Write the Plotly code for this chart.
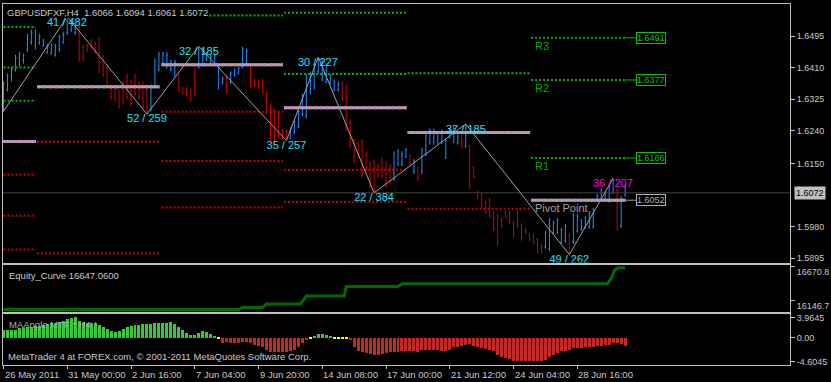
import plotly.graph_objects as go

# ---------------- data ----------------
title_text = "GBPUSDFXF,H4  1.6066 1.6094 1.6061 1.6072"

time_ticks = [0, 16, 32, 48, 64, 80, 96, 112, 128, 144]
time_labels = ["26 May 2011", "31 May 00:00", "2 Jun 16:00", "7 Jun 04:00", "9 Jun 20:00",
               "14 Jun 08:00", "17 Jun 00:00", "21 Jun 12:00", "24 Jun 04:00", "28 Jun 16:00"]
price_ticks = [1.6495, 1.6410, 1.6325, 1.6240, 1.6150, 1.5980, 1.5895]

bar_high = [
    1.6373, 1.6394, 1.6413, 1.6445, 1.6453, 1.6448, 1.6502, 1.6513, 1.6513, 1.6502,
    1.6488, 1.6475, 1.6475, 1.6475, 1.6499, 1.6507, 1.6548, 1.6540, 1.6526, 1.6526,
    1.6472, 1.6475, 1.6488, 1.6480, 1.6494, 1.6445, 1.6419, 1.6365, 1.6359, 1.6351,
    1.6373, 1.6394, 1.6378, 1.6394, 1.6373, 1.6373, 1.6359, 1.6365, 1.6435, 1.6453,
    1.6453, 1.6453, 1.6432, 1.6432, 1.6394, 1.6359, 1.6359, 1.6354, 1.6408, 1.6468,
    1.6462, 1.6453, 1.6445, 1.6448, 1.6419, 1.6386, 1.6392, 1.6400, 1.6408, 1.6413,
    1.6467, 1.6462, 1.6421, 1.6381, 1.6378, 1.6381, 1.6346, 1.6314, 1.6300, 1.6292,
    1.6244, 1.6244, 1.6249, 1.6271, 1.6298, 1.6341, 1.6392, 1.6400, 1.6421, 1.6439,
    1.6432, 1.6421, 1.6392, 1.6378, 1.6373, 1.6373, 1.6365, 1.6271, 1.6219, 1.6211,
    1.6217, 1.6184, 1.6157, 1.6163, 1.6150, 1.6166, 1.6157, 1.6150, 1.6184, 1.6190,
    1.6184, 1.6193, 1.6176, 1.6163, 1.6144, 1.6193, 1.6233, 1.6246, 1.6246, 1.6238,
    1.6244, 1.6219, 1.6246, 1.6252, 1.6230, 1.6230, 1.6258, 1.6203, 1.6144, 1.6077,
    1.6072, 1.6050, 1.6058, 1.6023, 1.6015, 1.6004, 1.6023, 1.6023, 1.5996, 1.6023,
    1.5988, 1.5977, 1.5964, 1.5961, 1.5950, 1.5934, 1.5969, 1.6004, 1.5996, 1.6004,
    1.5977, 1.5988, 1.5961, 1.6018, 1.6015, 1.6002, 1.6010, 1.6023, 1.6031, 1.6069,
    1.6085, 1.6077, 1.6098, 1.6111, 1.6082, 1.6063, 1.6094]
bar_low = [
    1.6292, 1.6346, 1.6373, 1.6400, 1.6413, 1.6421, 1.6453, 1.6472, 1.6459, 1.6472,
    1.6467, 1.6448, 1.6445, 1.6440, 1.6453, 1.6475, 1.6499, 1.6507, 1.6499, 1.6427,
    1.6427, 1.6453, 1.6459, 1.6448, 1.6394, 1.6386, 1.6359, 1.6324, 1.6319, 1.6300,
    1.6311, 1.6324, 1.6306, 1.6332, 1.6324, 1.6300, 1.6285, 1.6292, 1.6354, 1.6400,
    1.6419, 1.6408, 1.6400, 1.6386, 1.6346, 1.6338, 1.6332, 1.6319, 1.6332, 1.6408,
    1.6413, 1.6427, 1.6421, 1.6413, 1.6351, 1.6365, 1.6341, 1.6365, 1.6386, 1.6392,
    1.6408, 1.6419, 1.6354, 1.6359, 1.6354, 1.6341, 1.6284, 1.6211, 1.6211, 1.6219,
    1.6217, 1.6213, 1.6217, 1.6230, 1.6246, 1.6279, 1.6273, 1.6338, 1.6351, 1.6394,
    1.6373, 1.6368, 1.6365, 1.6346, 1.6346, 1.6319, 1.6238, 1.6193, 1.6152, 1.6166,
    1.6112, 1.6131, 1.6085, 1.6072, 1.6112, 1.6112, 1.6085, 1.6096, 1.6104, 1.6144,
    1.6144, 1.6166, 1.6144, 1.6123, 1.6104, 1.6123, 1.6171, 1.6203, 1.6203, 1.6203,
    1.6203, 1.6163, 1.6219, 1.6206, 1.6203, 1.6193, 1.6193, 1.6082, 1.6112, 1.6055,
    1.6031, 1.6015, 1.6004, 1.5969, 1.5929, 1.5977, 1.6004, 1.5988, 1.5950, 1.5977,
    1.5942, 1.5961, 1.5942, 1.5934, 1.5907, 1.5907, 1.5921, 1.5915, 1.5961, 1.5961,
    1.5934, 1.5937, 1.5905, 1.5934, 1.5964, 1.5969, 1.5975, 1.5975, 1.5975, 1.6050,
    1.6050, 1.6050, 1.6045, 1.6069, 1.5969, 1.5977, 1.6061]
bar_open = [
    1.6305, 1.6352, 1.6385, 1.6405, 1.6436, 1.6430, 1.6458, 1.6480, 1.6470, 1.6478,
    1.6470, 1.6452, 1.6450, 1.6445, 1.6460, 1.6480, 1.6505, 1.6512, 1.6505, 1.6520,
    1.6465, 1.6470, 1.6482, 1.6475, 1.6485, 1.6440, 1.6410, 1.6360, 1.6352, 1.6345,
    1.6365, 1.6385, 1.6370, 1.6388, 1.6368, 1.6365, 1.6352, 1.6298, 1.6360, 1.6405,
    1.6425, 1.6412, 1.6405, 1.6390, 1.6388, 1.6355, 1.6354, 1.6348, 1.6400, 1.6412,
    1.6418, 1.6430, 1.6425, 1.6418, 1.6358, 1.6368, 1.6385, 1.6370, 1.6390, 1.6395,
    1.6412, 1.6425, 1.6415, 1.6378, 1.6375, 1.6376, 1.6340, 1.6305, 1.6292, 1.6285,
    1.6240, 1.6238, 1.6220, 1.6235, 1.6250, 1.6285, 1.6280, 1.6345, 1.6358, 1.6400,
    1.6380, 1.6372, 1.6368, 1.6350, 1.6350, 1.6368, 1.6358, 1.6265, 1.6212, 1.6205,
    1.6210, 1.6178, 1.6150, 1.6155, 1.6145, 1.6160, 1.6150, 1.6144, 1.6110, 1.6150,
    1.6150, 1.6170, 1.6172, 1.6128, 1.6140, 1.6128, 1.6176, 1.6208, 1.6210, 1.6208,
    1.6208, 1.6168, 1.6222, 1.6210, 1.6206, 1.6226, 1.6198, 1.6198, 1.6140, 1.6074,
    1.6068, 1.6046, 1.6052, 1.6018, 1.6010, 1.6000, 1.6020, 1.6018, 1.5992, 1.6018,
    1.5984, 1.5974, 1.5961, 1.5958, 1.5946, 1.5930, 1.5925, 1.5920, 1.5965, 1.5966,
    1.5938, 1.5942, 1.5956, 1.5940, 1.5968, 1.5972, 1.5978, 1.5980, 1.5980, 1.6052,
    1.6055, 1.6054, 1.6050, 1.6074, 1.6078, 1.5982, 1.6066]
bar_close = [
    1.6365, 1.6388, 1.6405, 1.6438, 1.6447, 1.6444, 1.6495, 1.6505, 1.6500, 1.6495,
    1.6482, 1.6468, 1.6470, 1.6468, 1.6492, 1.6500, 1.6535, 1.6532, 1.6520, 1.6435,
    1.6432, 1.6458, 1.6464, 1.6452, 1.6400, 1.6392, 1.6365, 1.6330, 1.6325, 1.6305,
    1.6318, 1.6330, 1.6312, 1.6340, 1.6330, 1.6305, 1.6292, 1.6358, 1.6428, 1.6446,
    1.6448, 1.6445, 1.6426, 1.6425, 1.6352, 1.6342, 1.6338, 1.6325, 1.6340, 1.6460,
    1.6455, 1.6448, 1.6440, 1.6442, 1.6410, 1.6382, 1.6348, 1.6395, 1.6404, 1.6408,
    1.6460, 1.6455, 1.6360, 1.6362, 1.6358, 1.6345, 1.6290, 1.6220, 1.6218, 1.6225,
    1.6222, 1.6220, 1.6244, 1.6265, 1.6292, 1.6335, 1.6385, 1.6394, 1.6415, 1.6432,
    1.6425, 1.6415, 1.6388, 1.6372, 1.6368, 1.6325, 1.6245, 1.6200, 1.6158, 1.6172,
    1.6120, 1.6136, 1.6092, 1.6080, 1.6118, 1.6118, 1.6092, 1.6102, 1.6178, 1.6185,
    1.6178, 1.6188, 1.6150, 1.6158, 1.6110, 1.6186, 1.6226, 1.6240, 1.6238, 1.6232,
    1.6238, 1.6214, 1.6240, 1.6246, 1.6225, 1.6198, 1.6250, 1.6090, 1.6116, 1.6058,
    1.6036, 1.6020, 1.6010, 1.5975, 1.5935, 1.5982, 1.6008, 1.5992, 1.5955, 1.5982,
    1.5948, 1.5964, 1.5946, 1.5938, 1.5912, 1.5912, 1.5964, 1.5998, 1.5990, 1.5998,
    1.5972, 1.5982, 1.5910, 1.6012, 1.6010, 1.5996, 1.6005, 1.6018, 1.6025, 1.6065,
    1.6080, 1.6072, 1.6092, 1.6105, 1.5975, 1.6058, 1.6072]

# zigzag swing points (bar index, which extreme) and their labels
zz_bar = [0, 16, 36, 49, 71, 79, 93, 116, 142, 153]
zz_kind = ["low", "high", "low", "high", "low", "high", "low", "high", "low", "high"]
zz_text = ["", "41 / 482", "52 / 259", "32 / 185", "35 / 257", "30 / 227",
           "22 / 384", "37 / 185", "49 / 262", "36 / 207"]

# weekly pivot levels (bar-index span of each week)
week_start = [-3.0, 8.4, 39.65, 70.4, 101.4, 132.4]
week_end = [8.15, 39.15, 70.15, 101.15, 132.15, 156.15]
week_resist = [[1.6520, 1.6411, 1.6321], [], [1.6551], [1.6559, 1.6393], [1.6395],
               [1.6491, 1.6377, 1.6166]]
week_pivot = [[1.6211], [1.6359], [1.6418], [1.6302], [1.6235], [1.6052]]
week_support = [[1.6121, 1.6010, 1.5919], [1.6210, 1.5908], [1.6291, 1.6158, 1.6032],
                [1.6134, 1.6048], [1.6029], []]
cur_level_names = ["R3", "R2", "R1", "Pivot Point"]
cur_level_vals = [1.6491, 1.6377, 1.6166, 1.6052]

# equity curve
eq_bar = [0, 59, 60, 65, 66, 74.5, 76, 85.5, 86, 99, 100, 151.5, 152.5, 153.3, 154.2, 156]
eq_val = [16000.0, 16000.0, 16030.7, 16030.7, 16086.2, 16086.2, 16209.4, 16209.4,
          16359.0, 16359.0, 16400.5, 16400.5, 16477.6, 16605.5, 16647.06, 16647.06]
eq_ticks = [16670.8, 16146.7]

# MA angle histogram
ma_val = [
    1.4, 1.4, 1.5, 1.5, 1.8, 1.9, 2.1, 2.1, 2.25, 2.3,
    2.45, 2.55, 2.75, 2.9, 3.1, 3.3, 3.55, 3.7, 3.9645, 3.2,
    3.0, 2.9, 2.75, 2.55, 2.35, 1.95, 1.6, 1.35, 1.1, 1.2,
    1.6, 1.95, 2.2, 2.35, 2.5, 2.55, 2.6, 2.6, 2.75, 2.75,
    2.9, 2.9, 3.0, 2.6, 2.1, 1.5, 0.85, 0.45, 0.45, 0.95,
    1.3, 1.15, 0.7, 0.33, -0.2, -0.96, -0.83, -0.96, -1.08, -0.96,
    -0.83, -0.83, -1.08, -1.4, -1.6, -1.85, -2.37, -2.75, -2.88, -2.88,
    -2.88, -2.75, -2.5, -2.37, -1.85, -1.08, -0.45, -0.2, 0.33, 0.7,
    0.7, 0.52, 0.33, -0.2, -0.2, -0.2, -0.2, -0.45, -1.85, -2.5,
    -2.75, -3.0, -3.2, -3.33, -3.33, -3.2, -3.0, -2.88, -2.88, -2.75,
    -2.69, -2.69, -2.69, -2.69, -2.75, -2.37, -2.37, -2.37, -2.37, -2.37,
    -2.5, -2.69, -2.37, -1.85, -1.73, -1.6, -1.4, -1.27, -1.6, -1.73,
    -2.04, -2.24, -2.37, -2.69, -3.46, -3.78, -3.96, -4.17, -4.5, -4.6045,
    -4.6045, -4.6045, -4.6045, -4.6045, -4.6045, -4.6045, -4.4, -3.8, -3.33, -3.0,
    -2.69, -2.69, -2.37, -2.04, -1.92, -2.04, -1.85, -1.73, -1.73, -1.6,
    -1.6, -1.4, -1.4, -1.08, -0.96, -1.27, -1.6]
ma_neutral = [54, 77, 83, 84, 85, 86]
ma_ticks = [3.9645, 0.0, -4.6045]
ma_ticktext = ["3.9645", "0.00", "-4.6045"]

# ---------------- layout helpers ----------------
W, H = 831, 382
ML, MR, MT, MB = 3, 38, 2, 17
PW, PH = W - ML - MR, H - MT - MB
BOTTOM = H - MB


def ydom(top_px, bot_px):
    return [(BOTTOM - bot_px) / PH, (BOTTOM - top_px) / PH]


def px_x(px):
    return (px - ML) / PW


def px_y(py):
    return (BOTTOM - py) / PH


X0 = -0.125
XR = [X0, X0 + PW / 4.0]
BORDER = "#c0c0c0"
TXT = "#c8c8c8"
FONT = "Liberation Sans, Arial, sans-serif"
GREEN_DOT = "#00b800"
GREEN_TXT = "#00a800"
RED_DOT = "#cc0000"
CYAN = "#20e0ff"

bar_idx = list(range(len(bar_open)))
fig = go.Figure()

# current price line
fig.add_trace(go.Scatter(x=XR, y=[bar_close[-1]] * 2, mode="lines",
                         line=dict(color="#404040", width=1), xaxis="x", yaxis="y"))

# OHLC bars
fig.add_trace(go.Ohlc(x=bar_idx, open=bar_open, high=bar_high, low=bar_low, close=bar_close,
                      increasing=dict(line=dict(color="#1e90ff", width=1)),
                      decreasing=dict(line=dict(color="#c80000", width=1)),
                      tickwidth=0.25, xaxis="x", yaxis="y", hoverinfo="skip"))


def level_xy(levels):
    xs, ys = [], []
    for s, e, lv in zip(week_start, week_end, levels):
        for v in lv:
            xs += [s, e, None]
            ys += [v, v, None]
    return xs, ys


gx, gy = level_xy(week_resist)
fig.add_trace(go.Scatter(x=gx, y=gy, mode="lines", xaxis="x", yaxis="y",
                         line=dict(color=GREEN_DOT, width=2, dash="2px,2px")))
rx, ry = level_xy(week_support)
fig.add_trace(go.Scatter(x=rx, y=ry, mode="lines", xaxis="x", yaxis="y",
                         line=dict(color=RED_DOT, width=2, dash="2px,2px")))
px_, py_ = level_xy(week_pivot)
fig.add_trace(go.Scatter(x=px_, y=py_, mode="lines", xaxis="x", yaxis="y",
                         line=dict(color="#a8a8a8", width=3)))
fig.add_trace(go.Scatter(x=px_, y=py_, mode="lines", xaxis="x", yaxis="y",
                         line=dict(color="#c884bc", width=3, dash="3px,3px")))

# connectors from current week lines to value boxes
box_x = week_end[-1] + 2.55
for name, v in zip(cur_level_names, cur_level_vals):
    col = "#a0a0a0" if name == "Pivot Point" else GREEN_DOT
    fig.add_trace(go.Scatter(x=[week_end[-1], box_x], y=[v, v], mode="lines",
                             xaxis="x", yaxis="y", line=dict(color=col, width=1)))

# zigzag
zz_val = [bar_low[i] if k == "low" else bar_high[i] for i, k in zip(zz_bar, zz_kind)]
fig.add_trace(go.Scatter(x=zz_bar, y=zz_val, mode="lines", xaxis="x", yaxis="y",
                         line=dict(color="#a0a0a0", width=1)))
# labels under swing lows (clipped by the panel like the original)
low_x = [b for b, k, t in zip(zz_bar, zz_kind, zz_text) if k == "low" and t]
low_y = [v for v, k, t in zip(zz_val, zz_kind, zz_text) if k == "low" and t]
low_t = [t for k, t in zip(zz_kind, zz_text) if k == "low" and t]
fig.add_trace(go.Scatter(x=low_x, y=low_y, mode="text", text=low_t,
                         textposition="bottom center", cliponaxis=True,
                         textfont=dict(family=FONT, size=11, color=CYAN),
                         xaxis="x", yaxis="y"))

# equity curve
fig.add_trace(go.Scatter(x=eq_bar, y=eq_val, mode="lines", xaxis="x2", yaxis="y2",
                         line=dict(color="#006a00", width=3)))

# MA angle histogram
ma_col = []
for i, v in enumerate(ma_val):
    if i in ma_neutral:
        ma_col.append("#ffff00")
    elif v > 0:
        ma_col.append("#32cd32")
    else:
        ma_col.append("#c62828")
fig.add_trace(go.Bar(x=bar_idx, y=ma_val, marker=dict(color=ma_col, line=dict(width=0)),
                     width=0.75, xaxis="x3", yaxis="y3"))

# ---------------- annotations ----------------
ann = []
ann.append(dict(text=title_text, xref="paper", yref="paper", x=px_x(6), y=px_y(10.2),
                xanchor="left", yanchor="middle", showarrow=False, bgcolor="black",
                borderpad=0, font=dict(family=FONT, size=9.5, color=TXT)))
# labels on swing highs
last_high = max(i for i, k in enumerate(zz_kind) if k == "high")
for j, (b, k, t, v) in enumerate(zip(zz_bar, zz_kind, zz_text, zz_val)):
    if k != "high" or not t:
        continue
    col = "#ff00ff" if j == last_high else CYAN
    ann.append(dict(text=t, xref="x", yref="y", x=b, y=v, xanchor="center",
                    yanchor="middle", yshift=-5, showarrow=False,
                    font=dict(family=FONT, size=11, color=col)))
for name, v in zip(cur_level_names, cur_level_vals):
    is_pp = name == "Pivot Point"
    col = "#a0a0a0" if is_pp else GREEN_TXT
    ann.append(dict(text=name, xref="x", yref="y", x=week_start[-1] + 0.5, y=v,
                    xanchor="left", yanchor="middle", yshift=-8, showarrow=False,
                    font=dict(family=FONT, size=11, color=col)))
    bcol = "#b0b0b0" if is_pp else "#00c800"
    ann.append(dict(text=f"{v:.4f}", xref="x", yref="y", x=box_x, y=v,
                    xanchor="left", yanchor="middle", showarrow=False,
                    bgcolor="black", bordercolor=bcol, borderwidth=1, borderpad=0,
                    font=dict(family=FONT, size=9, color=bcol)))
ann.append(dict(text=f"{bar_close[-1]:.4f}", xref="paper", yref="y", x=px_x(797),
                y=bar_close[-1], xanchor="left", yanchor="middle", showarrow=False,
                bgcolor="#c0c0c0", borderpad=1, font=dict(family=FONT, size=9, color="black")))
ann.append(dict(text=f"Equity_Curve {eq_val[-1]:.4f}", xref="paper", yref="paper",
                x=px_x(7), y=px_y(275), xanchor="left", yanchor="middle", showarrow=False,
                font=dict(family=FONT, size=9.5, color=TXT)))
ann.append(dict(text="MAAngle MTF * H4 *", xref="paper", yref="paper",
                x=px_x(7), y=px_y(324), xanchor="left", yanchor="middle", showarrow=False,
                font=dict(family=FONT, size=9.5, color="#b0b0b0")))
ann.append(dict(text="MetaTrader 4 at FOREX.com, © 2001-2011 MetaQuotes Software Corp.",
                xref="paper", yref="paper", x=px_x(6), y=px_y(356.7), xanchor="left",
                yanchor="middle", showarrow=False, font=dict(family=FONT, size=9.5, color=TXT)))
for tv, tl in zip(time_ticks, time_labels):
    ann.append(dict(text=tl, xref="x3", yref="paper", x=tv, y=px_y(375), xanchor="left",
                    yanchor="middle", showarrow=False, xshift=-1,
                    font=dict(family=FONT, size=9.5, color=TXT)))

ax_common = dict(showgrid=False, zeroline=False, showline=True, mirror=True,
                 linecolor=BORDER, linewidth=1)
fig.update_layout(
    width=W, height=H, margin=dict(l=ML, r=MR, t=MT, b=MB, pad=0),
    paper_bgcolor="black", plot_bgcolor="black", showlegend=False, hovermode=False,
    font=dict(family=FONT, size=9, color=TXT),
    xaxis=dict(domain=[0, 1], anchor="y", range=XR, type="linear", showticklabels=False,
               ticks="", rangeslider=dict(visible=False), **ax_common),
    yaxis=dict(domain=ydom(2, 262), anchor="x", side="right",
               range=[1.588344, 1.658237], tickvals=price_ticks,
               ticktext=[f"{v:.4f}" for v in price_ticks], ticks="outside", ticklen=4,
               tickcolor=BORDER, tickfont=dict(family=FONT, size=9, color=TXT), **ax_common),
    xaxis2=dict(domain=[0, 1], anchor="y2", range=XR, type="linear", showticklabels=False,
                ticks="", **ax_common),
    yaxis2=dict(domain=ydom(264, 312), anchor="x2", side="right", range=[15958.2, 16697.9],
                tickvals=eq_ticks, ticktext=[f"{v:.1f}" for v in eq_ticks], ticks="outside",
                ticklen=4, tickcolor=BORDER, ticklabelshift=6,
                tickfont=dict(family=FONT, size=9, color=TXT), **ax_common),
    xaxis3=dict(domain=[0, 1], anchor="y3", range=XR, type="linear", showticklabels=False,
                ticks="outside", ticklen=3, tickcolor=BORDER, tickvals=time_ticks, **ax_common),
    yaxis3=dict(domain=ydom(314, 365), anchor="x3", side="right", range=[-5.25, 4.56],
                tickvals=ma_ticks, ticktext=ma_ticktext, ticks="outside", ticklen=4,
                tickcolor=BORDER, tickfont=dict(family=FONT, size=9, color=TXT), **ax_common),
    bargap=0,
    annotations=ann,
)

fig.write_html("out.html")
